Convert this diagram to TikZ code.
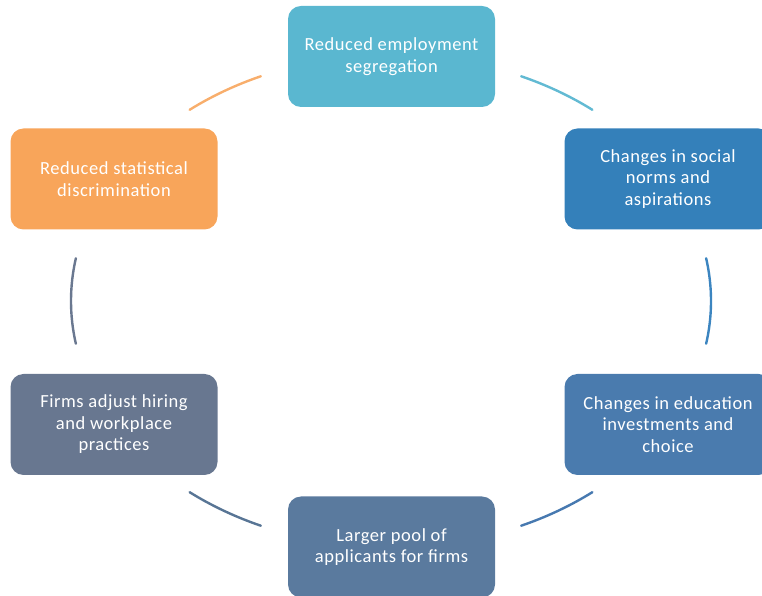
\documentclass[tikz,border=0pt]{standalone}
\usepackage{fontspec}
\setmainfont[LetterSpace=3]{Carlito}
\usetikzlibrary{calc}
\definecolor{cTop}{HTML}{5AB7D0}
\definecolor{cTR}{HTML}{3480BA}
\definecolor{cBR}{HTML}{4A7BAE}
\definecolor{cBot}{HTML}{5A7A9E}
\definecolor{cBL}{HTML}{687790}
\definecolor{cTL}{HTML}{F8A55A}
\definecolor{aTL}{HTML}{F8AE6C}
\definecolor{aTR}{HTML}{62BAD3}
\definecolor{aR}{HTML}{3C85C0}
\definecolor{aBR}{HTML}{4779B0}
\definecolor{aBL}{HTML}{587595}
\definecolor{aL}{HTML}{6A7890}
\tikzset{
  cyclebox/.style={rounded corners=13pt, minimum width=207pt, minimum height=101pt,
    inner sep=0pt, align=center, text=white,
    font=\fontsize{18.5}{21.5}\selectfont},
  cyclearc/.style={line width=2.4pt, line cap=round}
}
\begin{document}
\begin{tikzpicture}[x=1pt,y=1pt]
\useasboundingbox (0,0) rectangle (762,596);
\coordinate (ell) at (391,295);
\node[cyclebox, fill=cTop] (top) at (391.5,539.5) {Reduced employment\\segregation};
\node[cyclebox, fill=cTR] (tr) at (668,417) {Changes in social\\norms and\\aspirations};
\node[cyclebox, fill=cBR] (br) at (668,171.5) {Changes in education\\investments and\\choice};
\node[cyclebox, fill=cBot] (bot) at (391.5,49) {Larger pool of\\applicants for firms};
\node[cyclebox, fill=cBL] (bl) at (114,171.5) {Firms adjust hiring\\and workplace\\practices};
\node[cyclebox, fill=cTL] (tl) at (114,417) {Reduced statistical\\discrimination};
\draw[cyclearc, aTR] ($(ell)+(66:320 and 246)$) arc[start angle=66, end angle=51, x radius=320, y radius=246];
\draw[cyclearc, aR] ($(ell)+(10:320 and 246)$) arc[start angle=10, end angle=-10, x radius=320, y radius=246];
\draw[cyclearc, aBR] ($(ell)+(-51:320 and 246)$) arc[start angle=-51, end angle=-66, x radius=320, y radius=246];
\draw[cyclearc, aBL] ($(ell)+(-114:320 and 246)$) arc[start angle=-114, end angle=-129, x radius=320, y radius=246];
\draw[cyclearc, aL] ($(ell)+(190:320 and 246)$) arc[start angle=190, end angle=170, x radius=320, y radius=246];
\draw[cyclearc, aTL] ($(ell)+(129:320 and 246)$) arc[start angle=129, end angle=114, x radius=320, y radius=246];
\end{tikzpicture}
\end{document}
